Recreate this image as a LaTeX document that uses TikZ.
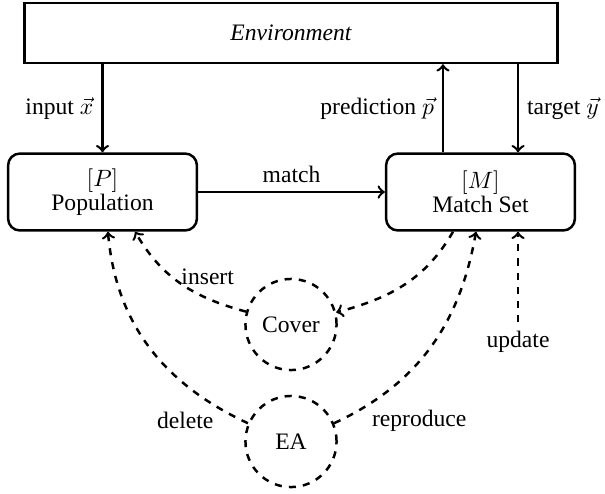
\documentclass[tikz,border=0pt]{standalone}
\usepackage[no-math]{fontspec}
\setmainfont{Liberation Serif}
\begin{document}
\begin{tikzpicture}[x=0.4237pt,y=0.4237pt,line width=1.05pt,
  box/.style={draw, rounded corners=5pt, minimum width=80pt, minimum height=32.6pt, align=center},
  envbox/.style={draw, minimum width=225.8pt, minimum height=25.4pt, font=\itshape},
  ring/.style={draw, dashed, circle, minimum size=38.6pt, inner sep=0pt},
  flow/.style={->},
  dflow/.style={->, dashed}]
\useasboundingbox (0,0) rectangle (605,-493);
\node[envbox] (env) at (291,-33) {Environment};
\node[box] (pop) at (102.5,-192) {$[P]$\\[-2pt]Population};
\node[box] (ms) at (480.5,-192) {$[M]$\\[-2pt]Match Set};
\node[ring] (cover) at (291,-324.5) {Cover};
\node[ring] (ea) at (291,-441.5) {EA};
\node (upd) at (518,-342) {update};
\draw[flow] (env.south -| pop.north) -- node[left] {input $\vec{x}$} (pop.north);
\draw[flow] ([xshift=-15.9pt]ms.north) -- node[left] {prediction $\vec{p}$} ([xshift=-15.9pt]ms.north |- env.south);
\draw[flow] ([xshift=15.9pt]ms.north |- env.south) -- node[right] {target $\vec{y}$} ([xshift=15.9pt]ms.north);
\draw[flow] (pop) -- node[above] {match} (ms);
\draw[dflow] ([xshift=-11.65pt]ms.south) to[out=-120,in=15] (cover.15);
\draw[dflow] (cover.164) to[out=165,in=-60] node[pos=0.35, above, xshift=4pt] {insert} ([xshift=13.8pt]pop.south);
\draw[dflow] (ea.157) to[out=155,in=-85] node[pos=0.08, left, xshift=-2.5pt, yshift=-3pt] {delete} ([xshift=2.3pt]pop.south);
\draw[dflow] (ea.23) to[out=25,in=-100] node[pos=0.07, right, xshift=5pt, yshift=-2.5pt] {reproduce} ([xshift=-1.9pt]ms.south);
\draw[dflow] (upd) -- (ms.south -| upd);
\end{tikzpicture}
\end{document}
